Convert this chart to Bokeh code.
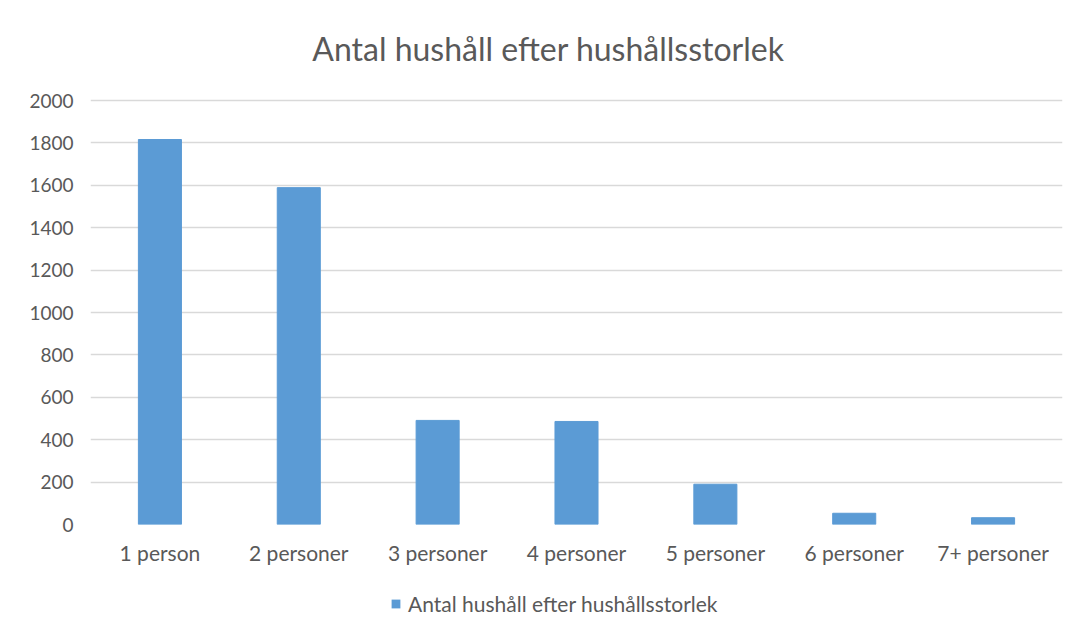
from bokeh.plotting import figure
from bokeh.layouts import column
from bokeh.models import (FactorRange, Range1d, Legend, LegendItem, Label, ColumnDataSource,
                          FixedTicker)
from bokeh.embed import file_html
from bokeh.resources import INLINE

categories = ["1 person", "2 personer", "3 personer", "4 personer", "5 personer", "6 personer", "7+ personer"]
values = [1816, 1589, 491, 486, 190, 53, 32]
y_ticks = [0, 200, 400, 600, 800, 1000, 1200, 1400, 1600, 1800, 2000]
series_name = "Antal hushåll efter hushållsstorlek"
title_text = "Antal hushåll efter hushållsstorlek"

FONT = "Lato"
TXT = "#595959"
GRID = "#D9D9D9"
BLUE = "#5B9BD5"

src = ColumnDataSource(dict(cat=categories, val=values))

# main chart: frame extends upward to hold the title
p = figure(frame_width=972, frame_height=524, output_backend="svg", toolbar_location=None,
           x_range=FactorRange(*categories, range_padding=0),
           y_range=Range1d(0, 2000 * 524 / 424),
           min_border_left=90, min_border_right=9, min_border_top=0, min_border_bottom=56)

r = p.vbar(x="cat", top="val", width=0.31, source=src, fill_color=BLUE, line_color=BLUE)

p.outline_line_color = None
p.background_fill_color = "white"
p.border_fill_color = "white"
p.xgrid.grid_line_color = None
p.ygrid.grid_line_color = GRID
p.ygrid.grid_line_width = 1.3

p.yaxis.ticker = FixedTicker(ticks=y_ticks)
for ax in (p.xaxis[0], p.yaxis[0]):
    ax.axis_line_color = None
    ax.major_tick_line_color = None
    ax.minor_tick_line_color = None
    ax.major_label_text_font = FONT
    ax.major_label_text_color = TXT
    ax.major_tick_out = 0
    ax.major_tick_in = 0
p.yaxis.major_label_text_font_size = "19px"
p.xaxis.major_label_text_font_size = "21px"
p.yaxis.major_label_standoff = 17
p.xaxis.major_label_standoff = 15

title = Label(x=3.298, y=2245, x_units="data", y_units="data", text=title_text,
              text_align="center", text_baseline="middle", text_font=FONT,
              text_font_size="32px", text_color=TXT)
p.add_layout(title)

# legend strip below the chart (its frame is aligned with the main frame)
lf = figure(width=1071, height=47, output_backend="svg", toolbar_location=None,
            x_range=Range1d(0, 1), y_range=Range1d(0, 1),
            x_axis_location=None, y_axis_location=None,
            min_border_left=0, min_border_right=0, min_border_top=0, min_border_bottom=0)
lf.outline_line_color = None
lf.grid.visible = False
lf.background_fill_color = "white"
lf.border_fill_color = "white"
# swatch-only renderer (zero height, no outline) so the legend can draw its key
dummy = lf.vbar(x=[-5], top=[-5], bottom=[-5], width=0.1, fill_color=BLUE, line_color=None)

legend = Legend(items=[LegendItem(label=series_name, renderers=[dummy])], location=(300, 11),
                orientation="horizontal", label_text_font=FONT, label_text_font_size="21px",
                label_text_color=TXT, glyph_width=11, glyph_height=11, border_line_color=None,
                background_fill_alpha=0, margin=0, padding=0, spacing=0, label_standoff=7)
lf.add_layout(legend)

layout = column(p, lf, spacing=0)
open("out.html", "w").write(file_html(layout, INLINE))
